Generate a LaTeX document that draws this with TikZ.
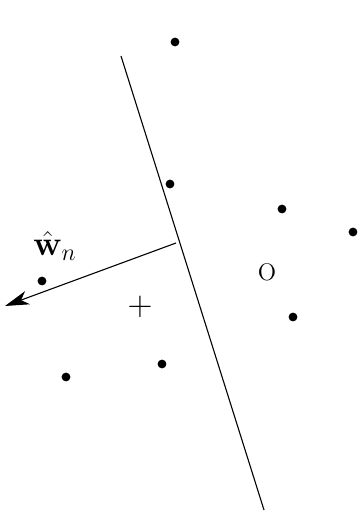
\documentclass[tikz,border=0pt]{standalone}
\usepackage{amsmath}
\usepackage{amssymb}
\usetikzlibrary{arrows.meta}

\begin{document}
\begin{tikzpicture}[x=0.5pt, y=-0.5pt,
  dot/.style={circle, fill=black, inner sep=0pt, minimum size=4.4pt},
  wvec/.style={-{Stealth[length=12pt, width=7pt, inset=3.5pt]}, line width=0.55pt}
]
  \useasboundingbox (0,0) rectangle (360,512);

  % separating line
  \coordinate (top) at (121,56);
  \coordinate (bot) at (264,510);
  \draw[line width=0.55pt] (top) -- (bot);

  % normal vector
  \coordinate (foot) at (176,243);
  \coordinate (tip) at (5,306);
  \draw[wvec] (foot) -- (tip);
  \node (wlabel) at (55,246) {\LARGE $\hat{\mathbf{w}}_n$};

  % class labels
  \node (plus) at (140,307) {\LARGE $+$};
  \node (circ) at (267,272) {\large O};

  % samples
  \node[dot] (p1) at (175,42) {};
  \node[dot] (p2) at (170,184) {};
  \node[dot] (p3) at (282,209) {};
  \node[dot] (p4) at (353,232) {};
  \node[dot] (p5) at (42,281) {};
  \node[dot] (p6) at (293,317) {};
  \node[dot] (p7) at (66,377) {};
  \node[dot] (p8) at (162,364) {};
\end{tikzpicture}
\end{document}
